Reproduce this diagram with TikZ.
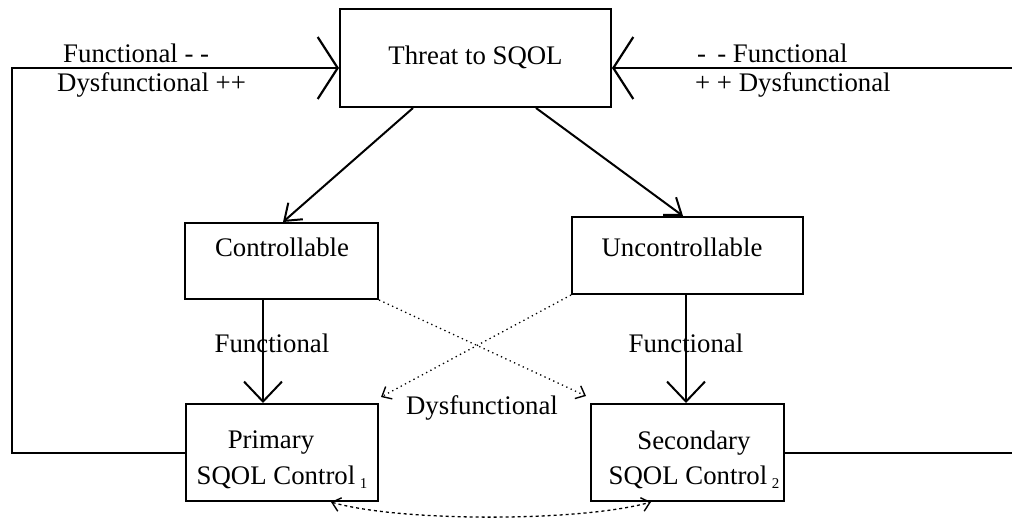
\documentclass[tikz,border=0pt]{standalone}
\usepackage{fontspec}
\setmainfont{Liberation Serif}
\usetikzlibrary{arrows.meta,calc}
\begin{document}
\begin{tikzpicture}[x=1pt,y=-1pt,
  every node/.style={font=\fontsize{26.8}{30}\selectfont, inner sep=0pt},
  boxnode/.style={draw, line width=2pt, rectangle},
  outer/.style={line width=2pt},
  bigtip/.style={-{Straight Barb[length=20pt,width=62pt,line width=2.2pt]}},
  midtip/.style={-{Straight Barb[length=15pt,width=22pt,line width=2pt]}},
  funtip/.style={-{Straight Barb[length=20pt,width=38pt,line width=2pt]}},
  dottip/.style={-{Straight Barb[length=8pt,width=14pt,line width=1.4pt]}},
  dotline/.style={line width=1.3pt, dash pattern=on 1.3pt off 3.5pt}]
\useasboundingbox (0,0) rectangle (1012,525);
% boxes
\node[boxnode, minimum width=271pt, minimum height=98pt] (threat) at (475.5,58) {};
\node (threattext) at (475.5,57) {Threat to SQOL};
\node[boxnode, minimum width=193pt, minimum height=76pt] (ctrl) at (281.5,261) {};
\node (ctrltext) at (282,247) {Controllable};
\node[boxnode, minimum width=231pt, minimum height=77pt] (unc) at (687.5,255.5) {};
\node (unctext) at (682,247) {Uncontrollable};
\node[boxnode, minimum width=192pt, minimum height=97pt] (prim) at (282,452.5) {};
\node (primtext1) at (271,443) {Primary};
\node (primtext2) at (282,477) {SQOL Control\,{\fontsize{15}{15}\selectfont\raisebox{-4pt}{1}}};
\node[boxnode, minimum width=193pt, minimum height=97pt] (sec) at (687.5,452.5) {};
\node (sectext1) at (694,443) {Secondary};
\node (sectext2) at (694,477) {SQOL Control\,{\fontsize{15}{15}\selectfont\raisebox{-4pt}{2}}};
% outer loops
\coordinate (ltop) at (12,68);
\coordinate (rtop) at (1012,68);
\draw[outer,bigtip] (prim.west) -- (prim.west -| ltop) -- (ltop) -- (ltop -| threat.west);
\draw[outer,bigtip] (rtop) -- (rtop -| threat.east);
\draw[outer] (sec.east) -- (sec.east -| rtop);
% labels on loops
\node[anchor=base west] (lf) at (63,62) {Functional - -};
\node[anchor=base west] (ld) at (57,91) {Dysfunctional ++};
\node[anchor=base west] (rf) at (697,62) {-\, - Functional};
\node[anchor=base west] (rd) at (695,91) {+ + Dysfunctional};
% threat to boxes
\draw[outer,midtip] ([xshift=-62.5pt]threat.south) -- ([xshift=1.5pt]ctrl.north);
\draw[outer,midtip] ([xshift=60.5pt]threat.south) -- ([xshift=-4.5pt]unc.north);
% functional verticals
\draw[line width=1.1pt,funtip] (ctrl.south -| 263,0) -- (prim.north -| 263,0);
\draw[line width=1.1pt,funtip] (unc.south -| 686,0) -- (sec.north -| 686,0);
\node (fl) at (272,343) {Functional};
\node (fr) at (686,343) {Functional};
% dotted crossing
\draw[dotline,dottip] (ctrl.south east) -- ($(sec.north west)+(-4,-7)$);
\draw[dotline,dottip] (unc.south west) -- ($(prim.north east)+(2,-6)$);
\node (dys) at (482,408) {Dysfunctional};
% bottom dotted curve
\draw[line width=1.3pt, dash pattern=on 3pt off 3pt, {Straight Barb[length=8pt,width=14pt,line width=1.4pt]}-{Straight Barb[length=8pt,width=14pt,line width=1.4pt]}]
  ($(prim.south west)+(146,0)$) .. controls (400,522) and (580,522) .. ($(sec.south west)+(61,0)$);
\end{tikzpicture}
\end{document}
